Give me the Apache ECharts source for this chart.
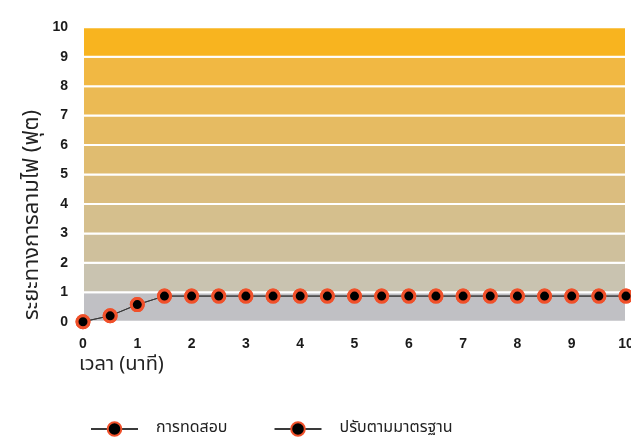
<!DOCTYPE html>
<html>
<head>
<meta charset="utf-8">
<script src="https://cdn.jsdelivr.net/npm/echarts@6/dist/echarts.min.js"></script>
<style>
html,body{margin:0;padding:0;background:#fff;}
#chart{width:631px;height:439px;}
</style>
</head>
<body>
<div id="chart"></div>
<script>
// ---- data ----
const times = [0, 0.5, 1, 1.5, 2, 2.5, 3, 3.5, 4, 4.5, 5, 5.5, 6, 6.5, 7, 7.5, 8, 8.5, 9, 9.5, 10];
const testValues = [0, 0.2, 0.58, 0.87, 0.87, 0.87, 0.87, 0.87, 0.87, 0.87, 0.87, 0.87, 0.87, 0.87, 0.87, 0.87, 0.87, 0.87, 0.87, 0.87, 0.87];
const standardValues = [0, 0.2, 0.58, 0.87, 0.87, 0.87, 0.87, 0.87, 0.87, 0.87, 0.87, 0.87, 0.87, 0.87, 0.87, 0.87, 0.87, 0.87, 0.87, 0.87, 0.87];
const seriesNames = ['การทดสอบ', 'ปรับตามมาตรฐาน'];
const yTicks = [0, 1, 2, 3, 4, 5, 6, 7, 8, 9, 10];
const xTicks = [0, 1, 2, 3, 4, 5, 6, 7, 8, 9, 10];
const bandColors = ['#c0c0c4', '#c9c3b0', '#cfc09c', '#d5bf8d', '#dbbd7f', '#e0bc70', '#e6bb62', '#ebba54', '#f1b843', '#f8b41f'];
const yTitle = 'ระยะทางการลามไฟ (ฟุต)';
const xTitle = 'เวลา (นาที)';

const thaiFont = '"Noto Sans Thai", "Noto Sans", "DejaVu Sans", sans-serif';

const bands = bandColors.map((c, i) => [
  { yAxis: yTicks[i], itemStyle: { color: c } },
  { yAxis: yTicks[i + 1] }
]);

const markerStyle = {
  type: 'line',
  symbol: 'circle',
  symbolSize: 12,
  lineStyle: { color: '#3a3a3a', width: 1 },
  itemStyle: { color: '#000', borderColor: '#f0502a', borderWidth: 3 },
  z: 3
};

const chart = echarts.init(document.getElementById('chart'), null, { renderer: 'canvas' });
chart.setOption({
  animation: false,
  backgroundColor: '#fff',
  grid: { left: 83, right: 5, top: 27.3, bottom: 117.3, outerBoundsMode: 'none', containLabel: false },
  xAxis: {
    type: 'value', min: xTicks[0], max: xTicks[xTicks.length - 1], interval: 1,
    axisLine: { show: false }, axisTick: { show: false }, splitLine: { show: false },
    axisLabel: { margin: 15, fontFamily: 'Liberation Sans, Arial, sans-serif', fontWeight: 'bold', fontSize: 14, color: '#1a1a1a' }
  },
  yAxis: {
    type: 'value', min: yTicks[0], max: yTicks[yTicks.length - 1], interval: 1,
    axisLine: { show: false }, axisTick: { show: false }, splitLine: { show: false },
    axisLabel: { margin: 15, padding: [0, 0, 10, 0], fontFamily: 'Liberation Sans, Arial, sans-serif', fontWeight: 'bold', fontSize: 14, color: '#1a1a1a' }
  },
  legend: {
    left: 85, top: 416, itemWidth: 47, itemHeight: 17, itemGap: 46,
    textStyle: { fontFamily: thaiFont, fontSize: 16, color: '#222', padding: [0, 0, 0, 13] },
    data: seriesNames
  },
  graphic: [
    { type: 'text', left: 23, top: 110, rotation: Math.PI / 2,
      style: { text: yTitle, font: '22px ' + thaiFont, fill: '#222' } },
    { type: 'text', left: 79, top: 356,
      style: { text: xTitle, font: '20px ' + thaiFont, fill: '#222' } }
  ],
  series: [
    Object.assign({}, markerStyle, {
      name: seriesNames[0],
      data: times.map((t, i) => [t, testValues[i]]),
      markArea: { silent: true, itemStyle: { borderColor: '#fff', borderWidth: 2 }, data: bands, z: 1 }
    }),
    Object.assign({}, markerStyle, {
      name: seriesNames[1],
      data: times.map((t, i) => [t, standardValues[i]])
    })
  ]
});
</script>
</body>
</html>
